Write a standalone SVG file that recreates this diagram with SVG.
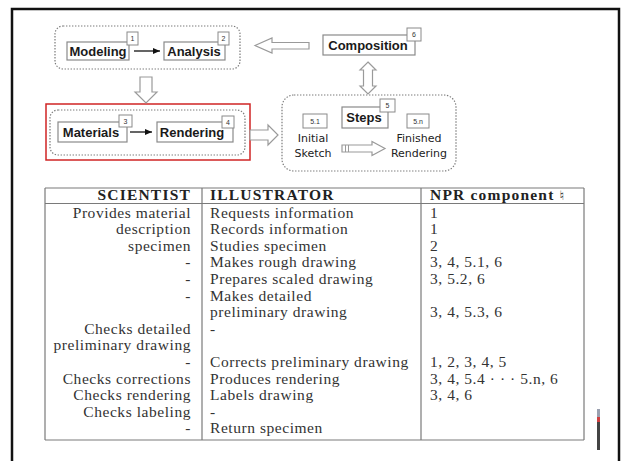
<svg xmlns="http://www.w3.org/2000/svg" width="621" height="461" viewBox="0 0 621 461">
<style>
.bx{fill:#fff;stroke:#8a8a8a;stroke-width:1.2}
.tag{fill:#fff;stroke:#8a8a8a;stroke-width:1}
.tagt{font-family:"Liberation Sans",Arial,sans-serif;font-size:7px;fill:#333;text-anchor:middle}
.lbl{font-family:"Liberation Sans",Arial,sans-serif;font-weight:bold;font-size:13px;fill:#1a1a1a;text-anchor:middle}
.dot{fill:none;stroke:#7a7a7a;stroke-width:1.2;stroke-dasharray:1.4,1.6}
.hol{fill:#fff;stroke:#9a9a9a;stroke-width:1.2}
.cm{font-family:"Comic Sans MS","DejaVu Sans",sans-serif;font-size:11px;fill:#222;text-anchor:middle}
.tl{stroke:#7a7a7a;stroke-width:1.2;fill:none}
.th{font-family:"Liberation Serif","Times New Roman",serif;font-weight:bold;font-size:15.5px;fill:#222;letter-spacing:1.2px}
.td{font-family:"Liberation Serif","Times New Roman",serif;font-size:15.5px;fill:#333;letter-spacing:0.55px}
.r{text-anchor:end}
</style>
<defs>
<marker id="ah" markerWidth="8" markerHeight="8" refX="7" refY="4" orient="auto" markerUnits="userSpaceOnUse">
<path d="M0,1 L7,4 L0,7 Z" fill="#111"/>
</marker>
</defs>
<rect x="0" y="0" width="621" height="461" fill="#fff"/>
<rect x="12" y="9" width="607" height="470" fill="none" stroke="#111" stroke-width="2.5"/>

<g id="group-modeling-analysis">
<rect class="dot" x="55" y="26" width="185" height="43" rx="8"/>
</g>
<g id="node-modeling">
<rect class="bx" x="67" y="42" width="62" height="18"/>
<text class="lbl" x="98" y="56">Modeling</text>
<rect class="tag" x="127" y="32" width="11" height="13"/>
<text class="tagt" x="132.5" y="41">1</text>
</g>
<g id="node-analysis">
<rect class="bx" x="164" y="42" width="61" height="18"/>
<text class="lbl" x="194" y="56">Analysis</text>
<rect class="tag" x="218" y="32" width="11" height="13"/>
<text class="tagt" x="223.5" y="41">2</text>
</g>
<g id="node-composition">
<rect class="bx" x="323" y="35" width="92" height="20"/>
<text class="lbl" x="368" y="50">Composition</text>
<rect class="tag" x="407" y="28" width="14" height="13"/>
<text class="tagt" x="414" y="37">6</text>
</g>

<g id="group-materials-rendering">
<rect x="46" y="104" width="204" height="56" fill="none" stroke="#d02424" stroke-width="1.5"/>
<rect class="dot" x="50" y="110" width="195" height="45" rx="8"/>
</g>
<g id="node-materials">
<rect class="bx" x="58" y="122" width="69" height="20"/>
<text class="lbl" x="91" y="137">Materials</text>
<rect class="tag" x="119" y="115" width="13" height="12"/>
<text class="tagt" x="125.5" y="123.5">3</text>
</g>
<g id="node-rendering">
<rect class="bx" x="157" y="122" width="76" height="20"/>
<text class="lbl" x="192" y="137">Rendering</text>
<rect class="tag" x="222" y="116" width="12" height="12"/>
<text class="tagt" x="228" y="124.5">4</text>
</g>

<g id="group-steps">
<rect class="dot" x="282" y="95" width="174" height="76" rx="12"/>
</g>
<g id="node-steps">
<rect class="bx" x="342" y="107" width="46" height="21"/>
<text class="lbl" x="364" y="122">Steps</text>
<rect class="tag" x="380" y="99" width="15" height="13"/>
<text class="tagt" x="387.5" y="108">5</text>
</g>
<g id="node-initial-sketch">
<rect class="tag" x="303" y="114" width="24" height="14"/>
<text class="tagt" x="315" y="123.5">5.1</text>
<text class="cm" x="313" y="142">Initial</text>
<text class="cm" x="313" y="157">Sketch</text>
</g>
<g id="node-finished-rendering">
<rect class="tag" x="407" y="114" width="22" height="14"/>
<text class="tagt" x="418" y="123.5">5.n</text>
<text class="cm" x="419" y="142">Finished</text>
<text class="cm" x="419" y="157">Rendering</text>
</g>

<g id="connectors">
<line x1="134" y1="51" x2="160" y2="51" stroke="#111" stroke-width="1.3" marker-end="url(#ah)"/>
<line x1="130" y1="132" x2="152" y2="132" stroke="#111" stroke-width="1.3" marker-end="url(#ah)"/>
<path class="hol" d="M255,45.5 L272,38 L272,42.5 L309,42.5 L309,49 L272,49 L272,53 Z"/>
<path class="hol" d="M368,62 L376,70 L372.5,70 L372.5,86 L376,86 L368,94 L360,86 L363.5,86 L363.5,70 L360,70 Z"/>
<path class="hol" d="M140,77 L152,77 L152,92 L157,92 L146,103 L135,92 L140,92 Z"/>
<path class="hol" d="M250,130 L268,130 L268,125 L278,135 L268,145 L268,140 L250,140 Z"/>
<path class="hol" d="M342,145 L372,145 L372,141.5 L385,148.5 L372,155.5 L372,152 L342,152 Z"/>
<line x1="345.5" y1="145" x2="345.5" y2="152" stroke="#9a9a9a" stroke-width="1"/>
<line x1="348.5" y1="145" x2="348.5" y2="152" stroke="#9a9a9a" stroke-width="1"/>
</g>

<g id="table">
<line class="tl" x1="45" y1="188" x2="584" y2="188"/>
<line class="tl" x1="45" y1="203.5" x2="584" y2="203.5"/>
<line class="tl" x1="45" y1="440" x2="584" y2="440"/>
<line class="tl" x1="45" y1="188" x2="45" y2="440"/>
<line class="tl" x1="584" y1="188" x2="584" y2="440"/>
<line class="tl" x1="202" y1="188" x2="202" y2="440"/>
<line class="tl" x1="421" y1="188" x2="421" y2="440"/>

<text class="th r" x="191" y="200">SCIENTIST</text>
<text class="th" x="210" y="200">ILLUSTRATOR</text>
<text class="th" x="430" y="200">NPR component <tspan font-family="'DejaVu Serif','DejaVu Sans',serif" font-weight="normal" font-size="13px">♮</tspan></text>

<g class="td">
<text class="r" x="191" y="217.5">Provides material</text>
<text class="r" x="191" y="234.1">description</text>
<text class="r" x="191" y="250.7">specimen</text>
<text class="r" x="191" y="267.3">-</text>
<text class="r" x="191" y="283.9">-</text>
<text class="r" x="191" y="300.5">-</text>
<text class="r" x="191" y="333.7">Checks detailed</text>
<text class="r" x="191" y="350.3">preliminary drawing</text>
<text class="r" x="191" y="366.9">-</text>
<text class="r" x="191" y="383.5">Checks corrections</text>
<text class="r" x="191" y="400.1">Checks rendering</text>
<text class="r" x="191" y="416.7">Checks labeling</text>
<text class="r" x="191" y="433.3">-</text>

<text x="210" y="217.5">Requests information</text>
<text x="210" y="234.1">Records information</text>
<text x="210" y="250.7">Studies specimen</text>
<text x="210" y="267.3">Makes rough drawing</text>
<text x="210" y="283.9">Prepares scaled drawing</text>
<text x="210" y="300.5">Makes detailed</text>
<text x="210" y="317.1">preliminary drawing</text>
<text x="210" y="333.7">-</text>
<text x="210" y="366.9">Corrects preliminary drawing</text>
<text x="210" y="383.5">Produces rendering</text>
<text x="210" y="400.1">Labels drawing</text>
<text x="210" y="416.7">-</text>
<text x="210" y="433.3">Return specimen</text>

<text x="430" y="217.5">1</text>
<text x="430" y="234.1">1</text>
<text x="430" y="250.7">2</text>
<text x="430" y="267.3">3, 4, 5.1, 6</text>
<text x="430" y="283.9">3, 5.2, 6</text>
<text x="430" y="317.1">3, 4, 5.3, 6</text>
<text x="430" y="366.9">1, 2, 3, 4, 5</text>
<text x="430" y="383.5">3, 4, 5.4 · · · 5.n, 6</text>
<text x="430" y="400.1">3, 4, 6</text>
</g>
</g>

<g id="artifact">
<rect x="597" y="409" width="3" height="8" fill="#9aa0b0"/>
<rect x="597" y="417" width="3" height="5" fill="#d04040"/>
<rect x="597" y="422" width="3" height="28" fill="#444"/>
</g>
</svg>
